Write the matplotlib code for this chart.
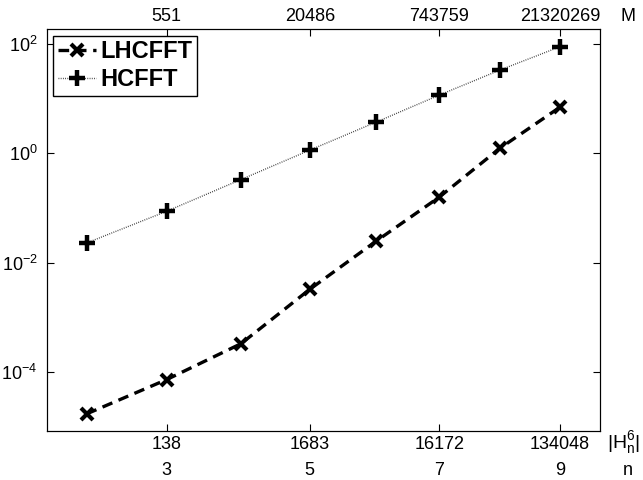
import numpy as np
import matplotlib
matplotlib.use("Agg")
import matplotlib.pyplot as plt
from matplotlib.transforms import blended_transform_factory

plt.rcParams["font.family"] = ["Liberation Sans", "DejaVu Sans"]
plt.rcParams["mathtext.fontset"] = "custom"
plt.rcParams["mathtext.rm"] = "Liberation Sans"
plt.rcParams["mathtext.it"] = "Liberation Sans:italic"

# data
n_vals = [2, 3, 4, 5, 6, 7, 8, 9]
hc_size = [34, 138, 506, 1683, 5357, 16172, 46900, 134048]
t_lhcfft = [1.69e-5, 7.2e-5, 3.27e-4, 3.24e-3, 0.0246, 0.158, 1.25, 7.08]
t_hcfft = [0.0229, 0.0873, 0.333, 1.15, 3.74, 11.7, 33.8, 90.4]

tick_n = [3, 5, 7, 9]
tick_h = ["138", "1683", "16172", "134048"]
tick_m = ["551", "20486", "743759", "21320269"]

fig = plt.figure(figsize=(6.43, 4.8), dpi=100)
ax = fig.add_axes([0.0736, 0.1027, 0.8595, 0.8363])

ax.plot(hc_size, t_lhcfft, ls=(0, (3.2, 2.0)), c="k", lw=2.4,
        marker="x", ms=9, mew=3.0, label="LHCFFT")
ax.plot(hc_size, t_hcfft, ls=(0, (0.6, 1.0)), c="0.2", lw=1.0,
        marker="+", ms=12, mew=3.2, mec="k", label="HCFFT")

ax.set_xscale("log")
ax.set_yscale("log")
ax.set_xlim(10 ** 1.2333, 10 ** 5.430)
ax.set_ylim(10 ** -5.08, 10 ** 2.275)

tick_pos = [hc_size[n_vals.index(k)] for k in tick_n]
ax.set_xticks(tick_pos)
ax.set_xticklabels(tick_h)
ax.xaxis.set_minor_locator(matplotlib.ticker.NullLocator())
ax.set_yticks([1e2, 1e0, 1e-2, 1e-4])
ax.set_yticklabels([r"$10^{2}$", r"$10^{0}$", r"$10^{-2}$", r"$10^{-4}$"])
ax.yaxis.set_minor_locator(matplotlib.ticker.NullLocator())
ax.tick_params(direction="in", length=5, width=0.8, labelsize=13,
               top=False, right=True)
ax.tick_params(axis="x", pad=4)
ax.tick_params(axis="y", pad=7)

ax2 = ax.twiny()
ax2.set_xscale("log")
ax2.set_xlim(ax.get_xlim())
ax2.set_xticks(tick_pos)
ax2.set_xticklabels(tick_m)
ax2.xaxis.set_minor_locator(matplotlib.ticker.NullLocator())
ax2.tick_params(direction="in", length=5, width=0.8, labelsize=13, pad=3)

trans = blended_transform_factory(ax.transData, ax.transAxes)
for pos, k in zip(tick_pos, tick_n):
    ax.text(pos, -0.098, str(k), transform=trans, ha="center", va="center",
            fontsize=13)
ax.text(1.043, -0.0435, r"$|\mathrm{H}_\mathrm{n}^6|$", transform=ax.transAxes,
        ha="center", va="baseline", fontsize=14)
ax.text(1.051, -0.098, "n", transform=ax.transAxes, ha="center",
        va="center", fontsize=13)
ax.text(1.051, 1.0306, "M", transform=ax.transAxes, ha="center",
        va="center", fontsize=13)

leg = ax.legend(loc="upper left", bbox_to_anchor=(0.0103, 0.984),
                borderaxespad=0, fancybox=False, edgecolor="k",
                prop={"weight": "bold", "size": 17}, handlelength=1.6,
                handletextpad=0.2, borderpad=0.2, labelspacing=0.2,
                framealpha=1)
leg.get_frame().set_linewidth(1.0)

for a in (ax, ax2):
    for s in a.spines.values():
        s.set_linewidth(0.8)

fig.savefig("out.png", dpi=100)
